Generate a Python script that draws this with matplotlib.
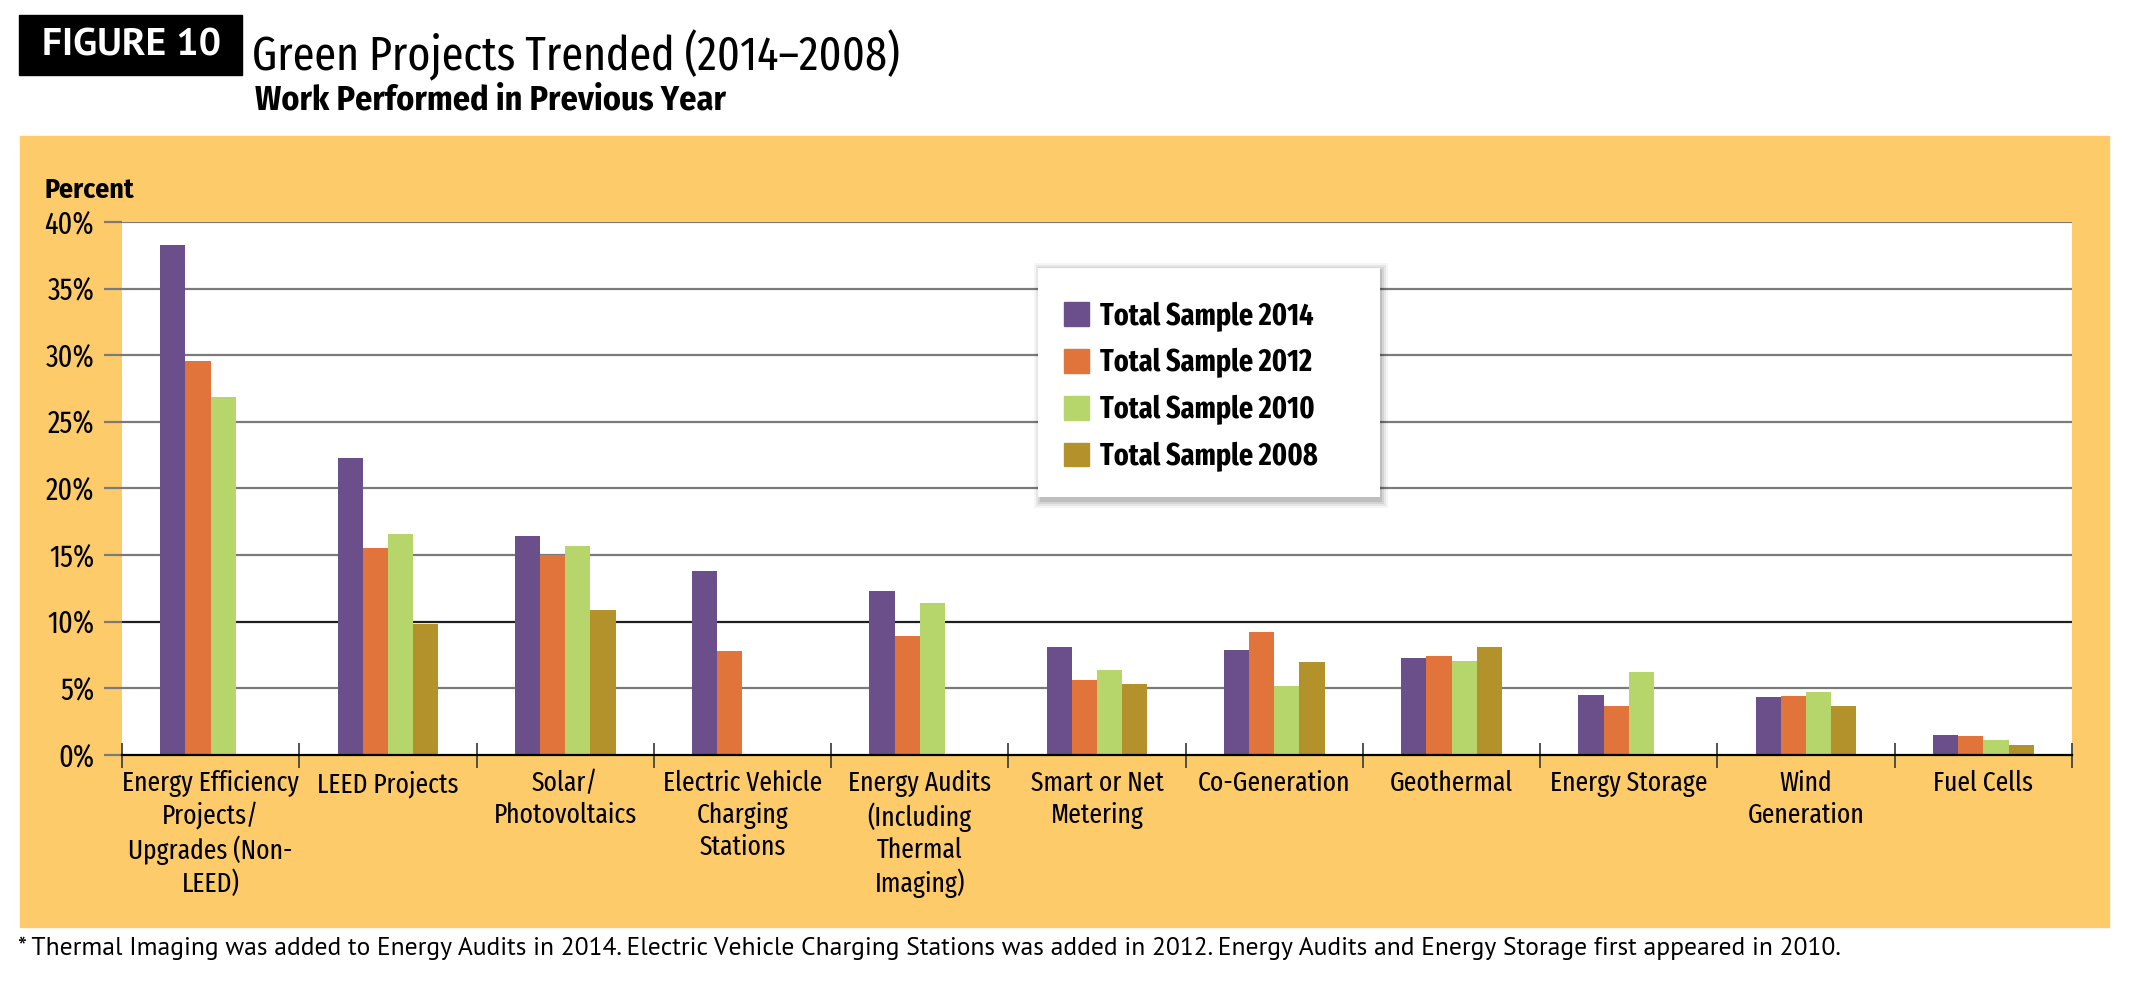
import numpy as np
import matplotlib
matplotlib.use("Agg")
import matplotlib.pyplot as plt
from matplotlib import font_manager
from matplotlib.patches import Rectangle, Patch

categories = [
    "Energy Efficiency\nProjects/\nUpgrades (Non-\nLEED)",
    "LEED Projects",
    "Solar/\nPhotovoltaics",
    "Electric Vehicle\nCharging\nStations",
    "Energy Audits\n(Including\nThermal\nImaging)",
    "Smart or Net\nMetering",
    "Co-Generation",
    "Geothermal",
    "Energy Storage",
    "Wind\nGeneration",
    "Fuel Cells",
]
series = ["Total Sample 2014", "Total Sample 2012", "Total Sample 2010", "Total Sample 2008"]
nan = np.nan
s2014 = [38.3, 22.3, 16.4, 13.8, 12.3, 8.1, 7.9, 7.25, 4.5, 4.35, 1.5]
s2012 = [29.6, 15.5, 15.0, 7.8, 8.9, 5.6, 9.2, 7.45, 3.65, 4.45, 1.4]
s2010 = [26.9, 16.6, 15.7, nan, 11.4, 6.4, 5.2, 7.05, 6.2, 4.7, 1.15]
s2008 = [nan, 9.85, 10.9, nan, nan, 5.3, 7.0, 8.1, nan, 3.7, 0.75]
yticks = [0, 5, 10, 15, 20, 25, 30, 35, 40]

title = "Green Projects Trended (2014\u20132008)"
subtitle = "Work Performed in Previous Year"
footnote = ("* Thermal Imaging was added to Energy Audits in 2014. Electric Vehicle Charging Stations "
            "was added in 2012. Energy Audits and Energy Storage first appeared in 2010.")

colors = ["#6b4f8b", "#e0743b", "#b6d66b", "#b3922b"]
panel = "#fdcb6a"

installed = set(f.name for f in font_manager.fontManager.ttflist)


def pick(cands):
    for c in cands:
        if c in installed:
            return c
    return "DejaVu Sans"


cond = pick(["Fira Sans Condensed", "PT Sans Narrow", "Roboto Condensed", "Archivo Narrow",
             "Liberation Sans Narrow"])
xcond = pick(["Fira Sans Extra Condensed", cond])
plain = pick(["PT Sans", "Fira Sans", "Open Sans", "Noto Sans"])
plt.rcParams["font.family"] = [cond, "DejaVu Sans"]
xfam = [xcond, "DejaVu Sans"]

W, H = 2137, 985
fig = plt.figure(figsize=(W / 100, H / 100), dpi=100)


def fx(px):
    return px / W


def fy(py):
    return 1 - py / H


# yellow panel behind the axes
fig.patches.append(Rectangle((fx(20), fy(927)), fx(2109 - 20), (927 - 136) / H,
                             transform=fig.transFigure, color=panel, zorder=-2))
# "FIGURE 10" box
fig.patches.append(Rectangle((fx(19), fy(75)), fx(242 - 19), 60 / H,
                             transform=fig.transFigure, color="black", zorder=-2))
t_fig = fig.text(fx(131), fy(46), "FIGURE 10", color="white", fontsize=24, fontweight="bold",
                 family=[plain, "DejaVu Sans"], ha="center", va="center")

t_title = fig.text(fx(252), fy(70), title, fontsize=36, family=xfam,
                   ha="left", va="baseline")
t_sub = fig.text(fx(255), fy(110), subtitle, fontsize=22, fontweight="bold", ha="left",
                 va="baseline")
fig.text(fx(45), fy(190), "Percent", fontsize=20, fontweight="bold", ha="left", va="center")
t_foot = fig.text(fx(18), fy(948), footnote, fontsize=16, family=[plain, "DejaVu Sans"],
                  ha="left", va="center")

ax = fig.add_axes([fx(122), fy(755), fx(2072 - 122), (755 - 222) / H])
ax.set_facecolor("white")

x = np.arange(len(categories))
w = 0.142
for i, (vals, c) in enumerate(zip([s2014, s2012, s2010, s2008], colors)):
    ax.bar(x + (i - 1.5) * w, vals, width=w, color=c, zorder=3, linewidth=0)

ax.set_xlim(-0.5, len(categories) - 0.5)
ax.set_ylim(0, 40)
ax.set_yticks(yticks)
ax.set_yticklabels([f"{v}%" for v in yticks], family=xfam, fontsize=22)
ax.tick_params(axis="y", length=13, width=1.6, color="#7a7a7a", pad=7)
for v in yticks[1:]:
    ax.axhline(v, color="#1e1e1e" if v == 10 else "#7a7a7a", lw=1.6, zorder=1)

ax.set_xticks(x)
ax.set_xticklabels(categories, family=xfam, fontsize=20, linespacing=1.22, va="top")
ax.tick_params(axis="x", length=0, pad=11)
ax.set_xticks(np.arange(len(categories) + 1) - 0.5, minor=True)
ax.tick_params(axis="x", which="minor", length=18, width=1.3, color="#444444",
               direction="inout")

for s in ["top", "left", "right"]:
    ax.spines[s].set_visible(False)
ax.spines["bottom"].set_color("black")
ax.spines["bottom"].set_linewidth(1.6)
ax.spines["bottom"].set_zorder(4)

# legend box with soft shadow
lx0, ly0, lx1, ly1 = 1038, 268, 1380, 497
for k, a in enumerate([0.10, 0.08, 0.06, 0.04]):
    d = 2 + k * 2
    fig.patches.append(Rectangle((fx(lx0 - d + 4), fy(ly1 + d + 3)), fx(lx1 - lx0 + 2 * d - 4),
                                 (ly1 - ly0 + 2 * d) / H, transform=fig.transFigure,
                                 color="black", alpha=a, lw=0, zorder=5))
fig.patches.append(Rectangle((fx(lx0), fy(ly1)), fx(lx1 - lx0), (ly1 - ly0) / H,
                             transform=fig.transFigure, color="white", lw=0, zorder=6))
handles = [Patch(color=c, label=s) for c, s in zip(colors, series)]
leg = fig.legend(handles=handles, loc="upper left", bbox_to_anchor=(fx(1040), fy(277)),
                 frameon=False, prop={"size": 22, "weight": "bold", "family": xfam},
                 handlelength=0.8, handleheight=0.8, handletextpad=0.35,
                 labelspacing=0.55, borderpad=0.3)
leg.set_zorder(7)

# fit wide texts to the widths measured on the reference
fig.canvas.draw()
r = fig.canvas.get_renderer()
for t, target in [(t_fig, 220 - 41), (t_title, 899 - 252), (t_sub, 727 - 255),
                  (t_foot, 1855 - 18)]:
    bw = t.get_window_extent(r).width
    t.set_fontsize(t.get_fontsize() * target / bw)

fig.savefig("out.png", dpi=100)
